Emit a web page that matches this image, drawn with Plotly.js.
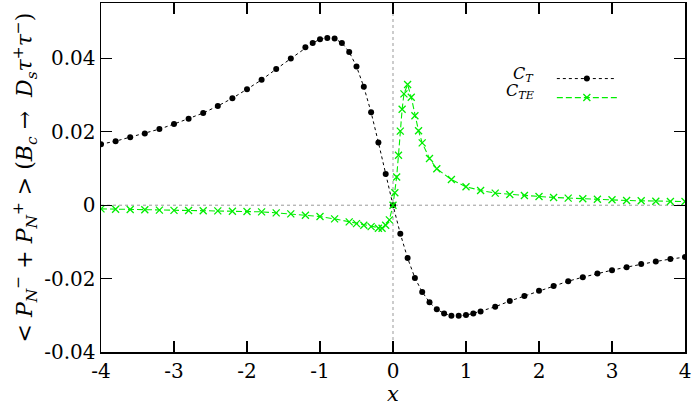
<!DOCTYPE html>
<html>
<head>
<meta charset="utf-8">
<script src="https://cdn.plot.ly/plotly-3.0.1.min.js"></script>
<style>
  html, body { margin: 0; padding: 0; background: #fff; }
  #chart { width: 692px; height: 409px; }
</style>
</head>
<body>
<div id="chart"></div>
<script>
// C_T (black dots)
var xT = [-4, -3.8, -3.6, -3.4, -3.2, -3, -2.8, -2.6, -2.4, -2.2, -2, -1.8, -1.6, -1.4, -1.2, -1.1,
          -1, -0.9, -0.8, -0.7, -0.6, -0.5, -0.4, -0.3, -0.2, -0.1, 0, 0.1, 0.2, 0.3, 0.4, 0.5,
          0.6, 0.7, 0.8, 0.9, 1, 1.1, 1.2, 1.4, 1.6, 1.8, 2, 2.2, 2.4, 2.6, 2.8, 3, 3.2, 3.4,
          3.6, 3.8, 4];
var yT = [0.01663, 0.01745, 0.01855, 0.01956, 0.02074, 0.02211, 0.02356, 0.02512, 0.02704, 0.02915,
          0.03162, 0.03416, 0.0371, 0.04, 0.04301, 0.04422, 0.04521, 0.04559, 0.0454, 0.04422,
          0.04175, 0.03781, 0.03225, 0.02532, 0.0171, 0.00849, 0, -0.00775, -0.01441, -0.01981,
          -0.02364, -0.02647, -0.02838, -0.02948, -0.03014, -0.03014, -0.02995, -0.02948, -0.02893,
          -0.02767, -0.02611, -0.02474, -0.02329, -0.022, -0.02071, -0.01962, -0.01863, -0.0177,
          -0.01688, -0.01605, -0.01534, -0.01468, -0.01414];

// C_TE (green crosses)
var xTE = [-4, -3.8, -3.6, -3.4, -3.2, -3, -2.8, -2.6, -2.4, -2.2, -2, -1.8, -1.6, -1.4, -1.2,
           -1, -0.8, -0.6, -0.5, -0.4, -0.3, -0.2, -0.15, -0.1, -0.05, 0, 0.025, 0.05, 0.075,
           0.1, 0.125, 0.15, 0.2, 0.25, 0.3, 0.35, 0.4, 0.5, 0.6, 0.8, 1, 1.2, 1.4, 1.6, 1.8,
           2, 2.2, 2.4, 2.6, 2.8, 3, 3.2, 3.4, 3.6, 3.8, 4];
var yTE = [-0.00099, -0.0011, -0.00118, -0.00126, -0.00134, -0.0014, -0.00145, -0.0015, -0.00155,
           -0.00164, -0.00173, -0.00181, -0.00208, -0.00236, -0.00274, -0.0031, -0.00373, -0.00455,
           -0.00501, -0.00548, -0.00584, -0.0063, -0.0063, -0.00548, -0.004, 0, 0.0034, 0.00767,
           0.01362, 0.02019, 0.02614, 0.03033, 0.03288, 0.02942, 0.02438, 0.02027, 0.01699,
           0.01271, 0.00992, 0.00699, 0.00504, 0.00403, 0.0033, 0.00293, 0.00266, 0.00238,
           0.00211, 0.00192, 0.00175, 0.00164, 0.00148, 0.00129, 0.0012, 0.0011, 0.00101, 0.00101];

var xTicks = [-4, -3, -2, -1, 0, 1, 2, 3, 4];
var xTickText = ['-4', '-3', '-2', '-1', '0', '1', '2', '3', '4'];
var yTicks = [-0.04, -0.02, 0, 0.02, 0.04];
var yTickText = ['-0.04', '-0.02', '0', '0.02', '0.04'];

var serif = "'DejaVu Serif', serif";

var traceT = {
  x: xT, y: yT,
  type: 'scatter',
  mode: 'lines+markers',
  name: ' ',
  line: { color: '#000000', width: 1, dash: '3px,3px' },
  marker: { color: '#000000', size: 6, symbol: 'circle' }
};

var traceTE = {
  x: xTE, y: yTE,
  type: 'scatter',
  mode: 'lines+markers',
  name: ' ',
  line: { color: '#00ee00', width: 1.1, dash: '6px,3px' },
  marker: { color: '#00ee00', size: 7, symbol: 'x-thin-open', line: { color: '#00ee00', width: 1.3 } }
};

var axisBase = {
  showline: true, mirror: 'ticks', linecolor: '#000', linewidth: 1.5,
  ticks: 'inside', ticklen: 11, tickwidth: 1.3, tickcolor: '#000',
  showgrid: false, zeroline: false,
  tickfont: { family: serif, size: 20, color: '#000' }
};

var layout = {
  width: 692, height: 409,
  margin: { l: 101, r: 7, t: 3, b: 57 },
  paper_bgcolor: '#fff', plot_bgcolor: '#fff',
  font: { family: serif, color: '#000' },
  xaxis: Object.assign({}, axisBase, {
    range: [-4, 4],
    tickvals: xTicks, ticktext: xTickText,
    title: { text: '<i>x</i>', font: { family: serif, size: 21 }, standoff: 4 }
  }),
  yaxis: Object.assign({}, axisBase, {
    range: [-0.04, 0.0551],
    tickvals: yTicks, ticktext: yTickText,
    title: {
      text: '&lt; <i>P</i><sub><i>N</i></sub><sup>\u2212</sup> + <i>P</i><sub><i>N</i></sub><sup>+</sup> &gt; (<i>B</i><sub><i>c</i></sub> \u2192  <i>D</i><sub><i>s</i></sub><i>\u03c4</i><sup>+</sup><i>\u03c4</i><sup>\u2212</sup>)',
      font: { family: serif, size: 22 }, standoff: 5
    }
  }),
  showlegend: true,
  legend: {
    x: 0.772, y: 0.825, xanchor: 'left', yanchor: 'top',
    bgcolor: 'rgba(0,0,0,0)', borderwidth: 0,
    font: { family: serif, size: 10 },
    itemwidth: 60, tracegroupgap: 0
  },
  shapes: [
    { type: 'line', xref: 'x', yref: 'paper', x0: 0, x1: 0, y0: 0, y1: 1,
      line: { color: '#999', width: 1, dash: 'dot' }, layer: 'below' },
    { type: 'line', xref: 'paper', yref: 'y', x0: 0, x1: 1, y0: 0, y1: 0,
      line: { color: '#999', width: 1, dash: 'dot' }, layer: 'below' }
  ],
  annotations: [
    { xref: 'paper', yref: 'paper', x: 0.745, y: 0.795, xanchor: 'right', yanchor: 'middle',
      showarrow: false, text: '<i>C</i><sub><i>T</i></sub>', font: { family: serif, size: 16 } },
    { xref: 'paper', yref: 'paper', x: 0.745, y: 0.745, xanchor: 'right', yanchor: 'middle',
      showarrow: false, text: '<i>C</i><sub><i>TE</i></sub>', font: { family: serif, size: 16 } }
  ]
};

Plotly.newPlot('chart', [traceT, traceTE], layout, { displayModeBar: false, staticPlot: true });
</script>
</body>
</html>
